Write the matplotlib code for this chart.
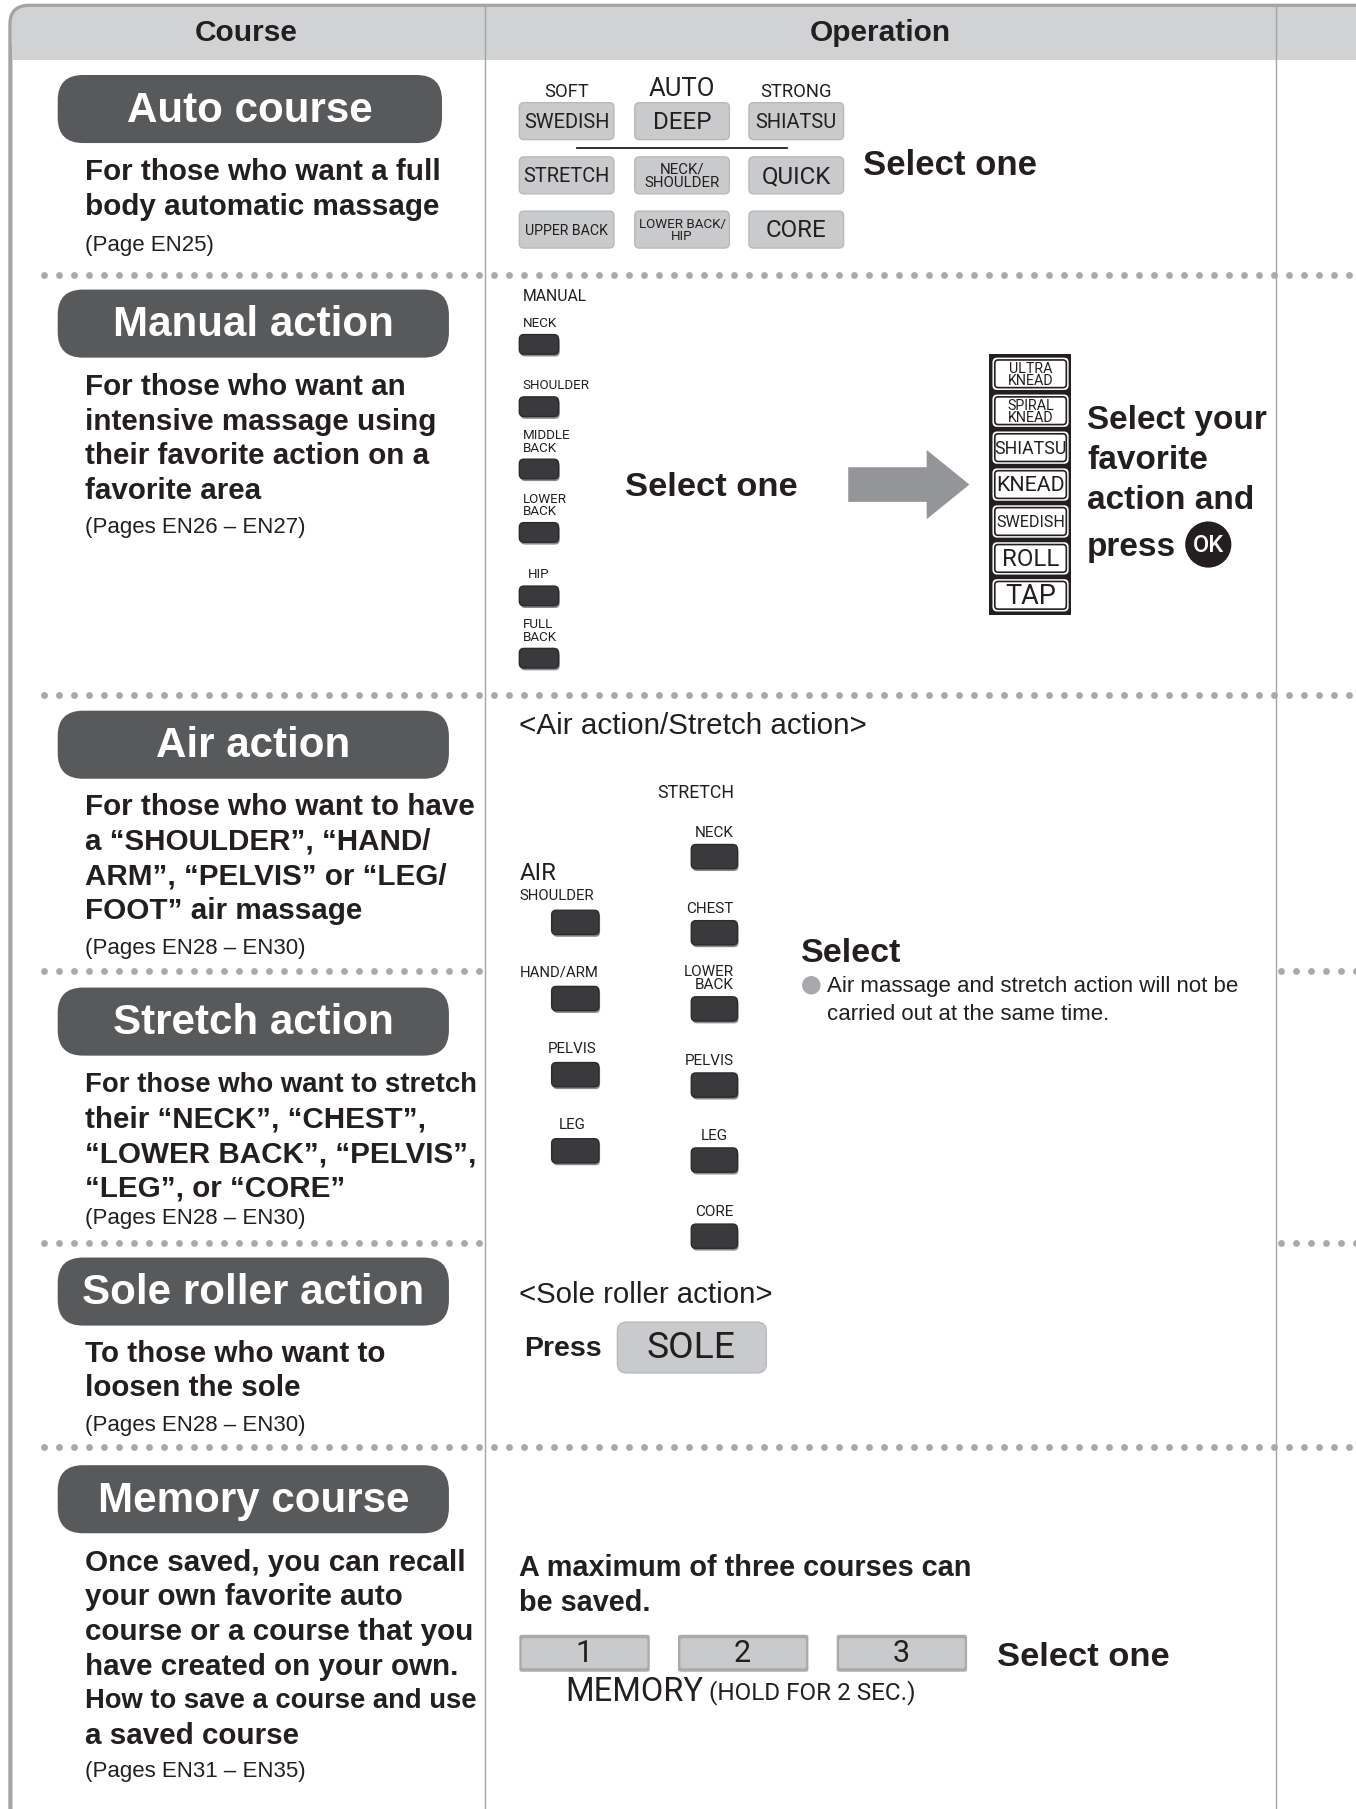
import numpy as np
import matplotlib.pyplot as plt
from matplotlib.patches import FancyBboxPatch, Rectangle, Circle, Polygon

# ---- content ----
headers = ["Course", "Operation"]

course_names = ["Auto course", "Manual action", "Air action", "Stretch action",
                "Sole roller action", "Memory course"]
course_desc = [
    ["For those who want a full", "body automatic massage"],
    ["For those who want an", "intensive massage using",
     "their favorite action on a", "favorite area"],
    ["For those who want to have", "a \u201cSHOULDER\u201d, \u201cHAND/",
     "ARM\u201d, \u201cPELVIS\u201d or \u201cLEG/", "FOOT\u201d air massage"],
    ["For those who want to stretch", "their \u201cNECK\u201d, \u201cCHEST\u201d,",
     "\u201cLOWER BACK\u201d, \u201cPELVIS\u201d,", "\u201cLEG\u201d, or \u201cCORE\u201d"],
    ["To those who want to", "loosen the sole"],
    ["Once saved, you can recall", "your own favorite auto",
     "course or a course that you", "have created on your own.",
     "How to save a course and use", "a saved course"],
]
course_pages = ["(Page EN25)", "(Pages EN26 \u2013 EN27)", "(Pages EN28 \u2013 EN30)",
                "(Pages EN28 \u2013 EN30)", "(Pages EN28 \u2013 EN30)",
                "(Pages EN31 \u2013 EN35)"]

auto_top_labels = ["SOFT", "AUTO", "STRONG"]
auto_buttons = [["SWEDISH", "DEEP", "SHIATSU"],
                ["STRETCH", "NECK/\nSHOULDER", "QUICK"],
                ["UPPER BACK", "LOWER BACK/\nHIP", "CORE"]]

manual_areas = ["NECK", "SHOULDER", "MIDDLE\nBACK", "LOWER\nBACK", "HIP", "FULL\nBACK"]
dial_actions = ["ULTRA\nKNEAD", "SPIRAL\nKNEAD", "SHIATSU", "KNEAD", "SWEDISH", "ROLL", "TAP"]

air_areas = ["SHOULDER", "HAND/ARM", "PELVIS", "LEG"]
stretch_areas = ["NECK", "CHEST", "LOWER\nBACK", "PELVIS", "LEG", "CORE"]
memory_slots = ["1", "2", "3"]

# ---- layout (reference pixel grid 1175 x 1568) ----
pill_top = [65, 251, 616, 856, 1090, 1270]
pill_w = [333, 339, 339, 339, 339, 339]
desc_y0 = [148, 334, 698, 939, 1172, 1353]
page_y = [211, 456, 821, 1055, 1234, 1534]

COND = 'Roboto'
SANS = 'Liberation Sans'
INK = '#231f20'
DARK = '#58595b'
LIGHT = '#c9cacc'
KEY = '#3a3a3c'
GRID = '#a3a4a6'
PX = 1356 / 1175

fig = plt.figure(figsize=(13.56, 18.09), dpi=100)
ax = fig.add_axes([0, 0, 1, 1])
ax.set_xlim(0, 1175)
ax.set_ylim(1568, 0)
ax.axis('off')


def box(x, y, w, h, fc, ec='none', r=4, lw=1, z=2):
    ax.add_patch(FancyBboxPatch((x, y), w, h, boxstyle=f"round,pad=0,rounding_size={r}",
                                fc=fc, ec=ec, lw=lw, zorder=z))


def cond(x, y, s, size, ha='center', va='center', color=INK, ls=0.9, z=4):
    if va == 'center':
        y += 2
    return ax.text(x, y, s, fontsize=size, family=COND, ha=ha, va=va, color=color,
                   linespacing=ls, zorder=z)


def sans(x, y, s, size, bold=False, ha='left', color=INK, z=4):
    return ax.text(x, y + 1.5, s, fontsize=size, family=SANS,
                   weight='bold' if bold else 'normal', ha=ha, va='center',
                   color=color, zorder=z)


def key(x, y, w, h):
    box(x + 1, y + 2, w, h, '#8a8a8c', r=4, z=2)
    box(x, y, w, h, KEY, '#2b2b2d', r=4, z=3)


# frame and header
ax.add_patch(FancyBboxPatch((9, 5), 1300, 1600, boxstyle="round,pad=0,rounding_size=16",
                            fc='white', ec=GRID, lw=3, zorder=0))
ax.add_patch(FancyBboxPatch((10, 6), 1300, 46, boxstyle="round,pad=0,rounding_size=15",
                            fc='#d1d2d4', ec='none', zorder=1))
ax.add_patch(Rectangle((10, 30), 1300, 22, fc='#d1d2d4', ec='none', zorder=1))
ax.plot([420, 420], [6, 1568], color=GRID, lw=1, zorder=1)
ax.plot([1106, 1106], [6, 1568], color=GRID, lw=1, zorder=1)
for hx, h in zip([213, 763], headers):
    sans(hx, 27.5, h, 21.5, bold=True, ha='center')

# dotted separators
for yy in [238, 602, 1254]:
    xs = np.arange(38, 1176, 13.0)
    ax.scatter(xs, np.full_like(xs, yy), s=24, c='#a7a9ac', linewidths=0, zorder=3)
for yy in [842, 1077]:
    xs = np.concatenate([np.arange(38, 421, 13.0), np.arange(1110, 1176, 13.0)])
    ax.scatter(xs, np.full_like(xs, yy), s=24, c='#a7a9ac', linewidths=0, zorder=3)

# course column
renderer = fig.canvas.get_renderer()
for i, name in enumerate(course_names):
    box(50, pill_top[i], pill_w[i], 59, DARK, r=22)
    sans(50 + pill_w[i] / 2, pill_top[i] + 29.5, name, 30.3, bold=True, ha='center',
         color='white')
    for j, line in enumerate(course_desc[i]):
        t = sans(74, desc_y0[i] + 30 * j, line, 21.3, bold=True)
        w = t.get_window_extent(renderer=renderer).width / PX
        if w > 340:
            t.set_fontsize(21.3 * 340 / w)
    sans(74, page_y[i], course_pages[i], 16)

# auto course buttons
col_x = [491, 591, 690]
row_top = [89, 136, 183]
for cx, lab in zip(col_x, auto_top_labels):
    if lab == "AUTO":
        cond(cx, 75, lab, 18.5)
    else:
        cond(cx, 78, lab, 13.2)
for r, row in enumerate(auto_buttons):
    for cx, lab in zip(col_x, row):
        box(cx - 41, row_top[r], 82, 32, LIGHT, '#b8b9bb', r=4)
        if '\n' in lab:
            size = 10.8 if 'SHOULDER' in lab else 9.6
        elif len(lab) > 8:
            size = 10.2
        else:
            size = 14.4 if len(lab) > 5 else 17.4
        cond(cx, row_top[r] + 15, lab, size, ls=0.95)
ax.plot([500, 682], [128, 128], color=INK, lw=1.3, zorder=3)
sans(748, 142, "Select one", 25, bold=True)

# manual action
cond(453, 255, "MANUAL", 11.3, ha='left')
man_top = [290, 344, 398, 453, 508, 562]
for t, lab in zip(man_top, manual_areas):
    if lab == "HIP":
        cond(467, t - 4, lab, 9.6, va='bottom')
    else:
        cond(453, t - 4, lab, 9.6, ha='left', va='bottom', ls=0.95)
    key(450, t, 34, 17)
sans(542, 421, "Select one", 24.8, bold=True)
ax.add_patch(Polygon([(735, 405), (803, 405), (803, 390), (840, 420), (803, 450),
                      (803, 435), (735, 435)], closed=True, fc='#939598', ec='none', zorder=2))
ax.add_patch(Rectangle((857, 307), 71, 226, fc=INK, ec='none', zorder=2))
for i, lab in enumerate(dial_actions):
    top = 310 + 32 * i
    box(860, top, 66, 28, 'white', 'none', r=4, z=3)
    box(862, top + 2, 62, 24, 'white', INK, r=3, lw=1.2, z=4)
    if '\n' in lab:
        size, ls = 10.3, 0.85
    elif len(lab) >= 7:
        size, ls = (12.8 if lab == "SHIATSU" else 11.6), 1
    elif len(lab) == 5:
        size, ls = 15.4, 1
    else:
        size, ls = (17.4 if lab == "ROLL" else 19.5), 1
    cond(893, top + 13, lab, size, ls=ls, z=5)
for j, line in enumerate(["Select your", "favorite", "action and", "press"]):
    sans(942, [363, 398, 432, 473][j], line, 24, bold=True)
ax.add_patch(Circle((1047, 472), 20, fc=INK, ec='none', zorder=3))
ax.text(1047, 473, "OK", fontsize=17, family=COND, ha='center', va='center',
        color='white', weight='medium', zorder=4)

# air / stretch action
sans(450, 628, "<Air action/Stretch action>", 21.3)
cond(636, 685, "STRETCH", 12.8, ha='right')
st_top = [732, 798, 864, 930, 995, 1061]
for t, lab in zip(st_top, stretch_areas):
    if lab == "LEG":
        cond(619, t - 4, lab, 11, va='bottom')
    else:
        cond(636, t - 4, lab, 11, ha='right', va='bottom', ls=0.9)
    key(599, t, 40, 21)
cond(450, 755, "AIR", 17.3, ha='left')
air_top = [789, 855, 921, 987]
for t, lab in zip(air_top, air_areas):
    if lab in ("SHOULDER", "HAND/ARM"):
        cond(450, t - 6, lab, 10.7, ha='left', va='bottom')
    else:
        cond(496, t - 6, lab, 10.9, va='bottom')
    key(478, t, 41, 21)
sans(694, 825, "Select", 24.5, bold=True)
ax.add_patch(Circle((703, 854), 8, fc='#a7a9ac', ec='none', zorder=3))
sans(717, 854, "Air massage and stretch action will not be", 16)
sans(717, 878, "carried out at the same time.", 16)

# sole roller
sans(450, 1121, "<Sole roller action>", 21.2)
sans(454, 1168, "Press", 20.5, bold=True)
box(535, 1146, 129, 44, LIGHT, '#b8b9bb', r=8)
cond(599, 1166, "SOLE", 26.8)

# memory
sans(450, 1358, "A maximum of three courses can", 20.8, bold=True)
sans(450, 1388, "be saved.", 20.8, bold=True)
for k, lab in enumerate(memory_slots):
    x0 = 450 + 137.5 * k
    box(x0, 1417, 113, 32, '#a9aaac', 'none', r=2)
    box(x0 + 2, 1420, 109, 26, LIGHT, 'none', r=2, z=3)
    cond(x0 + 56, 1431, lab, 22, z=5)
sans(864, 1435, "Select one", 24.8, bold=True)
cond(490, 1465, "MEMORY", 23.5, ha='left')
cond(614, 1465, "(HOLD FOR 2 SEC.)", 17.5, ha='left')

fig.savefig('out.png', dpi=100)
